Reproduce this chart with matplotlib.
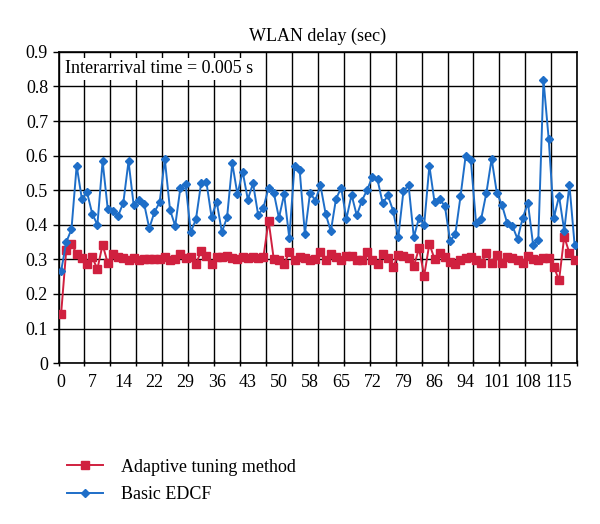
import numpy as np
import matplotlib
matplotlib.use('Agg')
import matplotlib.pyplot as plt
from matplotlib.ticker import FixedLocator, MultipleLocator

plt.rcParams['font.family'] = ['Liberation Serif', 'DejaVu Serif']

# WLAN delay (sec), one value per sample (100 samples)
adaptive = [0.142, 0.328, 0.345, 0.316, 0.304, 0.287, 0.306, 0.272, 0.343, 0.289,
            0.316, 0.306, 0.303, 0.299, 0.303, 0.297, 0.300, 0.300, 0.300, 0.302,
            0.306, 0.299, 0.301, 0.316, 0.304, 0.306, 0.287, 0.324, 0.310, 0.288,
            0.306, 0.306, 0.310, 0.305, 0.301, 0.306, 0.305, 0.307, 0.305, 0.306,
            0.412, 0.301, 0.297, 0.287, 0.321, 0.299, 0.306, 0.303, 0.299, 0.301,
            0.321, 0.297, 0.316, 0.306, 0.297, 0.311, 0.311, 0.297, 0.299, 0.321,
            0.299, 0.287, 0.316, 0.304, 0.277, 0.314, 0.311, 0.304, 0.280, 0.332,
            0.253, 0.345, 0.301, 0.318, 0.306, 0.292, 0.287, 0.299, 0.304, 0.306,
            0.299, 0.290, 0.318, 0.290, 0.314, 0.289, 0.308, 0.304, 0.297, 0.290,
            0.311, 0.301, 0.299, 0.304, 0.304, 0.279, 0.239, 0.366, 0.318, 0.299]
basic = [0.266, 0.350, 0.387, 0.571, 0.475, 0.494, 0.432, 0.400, 0.584, 0.445,
         0.439, 0.426, 0.464, 0.584, 0.456, 0.472, 0.461, 0.390, 0.437, 0.465,
         0.589, 0.443, 0.397, 0.507, 0.518, 0.379, 0.416, 0.521, 0.525, 0.423,
         0.466, 0.379, 0.422, 0.578, 0.488, 0.554, 0.473, 0.520, 0.428, 0.449,
         0.507, 0.493, 0.420, 0.488, 0.361, 0.571, 0.557, 0.374, 0.493, 0.470,
         0.514, 0.432, 0.381, 0.475, 0.507, 0.417, 0.487, 0.427, 0.470, 0.501,
         0.538, 0.531, 0.462, 0.485, 0.441, 0.364, 0.497, 0.514, 0.364, 0.420,
         0.400, 0.571, 0.465, 0.475, 0.453, 0.354, 0.372, 0.482, 0.600, 0.586,
         0.405, 0.418, 0.493, 0.591, 0.493, 0.457, 0.405, 0.397, 0.359, 0.420,
         0.463, 0.342, 0.357, 0.819, 0.649, 0.420, 0.483, 0.383, 0.516, 0.342]
# category labels shown every 6th sample
tick_labels = ['0', '7', '14', '22', '29', '36', '43', '50', '58', '65', '72',
               '79', '86', '94', '101', '108', '115']

red = '#d0203f'
blue = '#1e6ec8'

fig = plt.figure(figsize=(6, 5.24), dpi=100)
ax = fig.add_axes([0.0975, 0.307, 0.8645, 0.594])

x = np.arange(len(basic))
ax.plot(x, adaptive, color=red, lw=1.4, marker='s', ms=5.5, mec=red, mfc=red,
        label='Adaptive tuning method', zorder=3)
ax.plot(x, basic, color=blue, lw=1.4, marker='D', ms=3.8, mec=blue, mfc=blue,
        label='Basic EDCF', zorder=4)

ax.set_xlim(-0.5, len(basic) - 0.5)
ax.set_ylim(0, 0.9)
ax.yaxis.set_major_locator(MultipleLocator(0.1))
ax.set_yticklabels(['0' if abs(v) < 1e-9 else '%.1f' % v for v in ax.get_yticks()])

ax.set_xticks(np.arange(len(tick_labels)) * 6)
ax.set_xticklabels(tick_labels)
ax.xaxis.set_minor_locator(FixedLocator(np.arange(-0.5, len(basic), 5)))
ax.tick_params(axis='x', which='major', length=0, pad=8, labelsize=13)
ax.tick_params(axis='x', which='minor', length=5, width=1, direction='inout')
ax.tick_params(axis='y', length=4, width=1, labelsize=13)

ax.grid(True, which='minor', axis='x', color='black', lw=1)
ax.grid(True, which='major', axis='y', color='black', lw=1)
for s in ax.spines.values():
    s.set_linewidth(1.2)

ax.set_title('WLAN delay (sec)', fontsize=13, pad=8)
ax.text(0.013, 0.945, 'Interarrival time = 0.005 s', transform=ax.transAxes,
        fontsize=13, va='center', ha='left', zorder=5,
        bbox=dict(facecolor='white', edgecolor='none', pad=1.5))

fig.legend(loc='upper left', bbox_to_anchor=(0.085, 0.156), frameon=False,
           fontsize=13, handlelength=2.0, handletextpad=1.0, labelspacing=0.6)

plt.savefig('out.png', dpi=100)
